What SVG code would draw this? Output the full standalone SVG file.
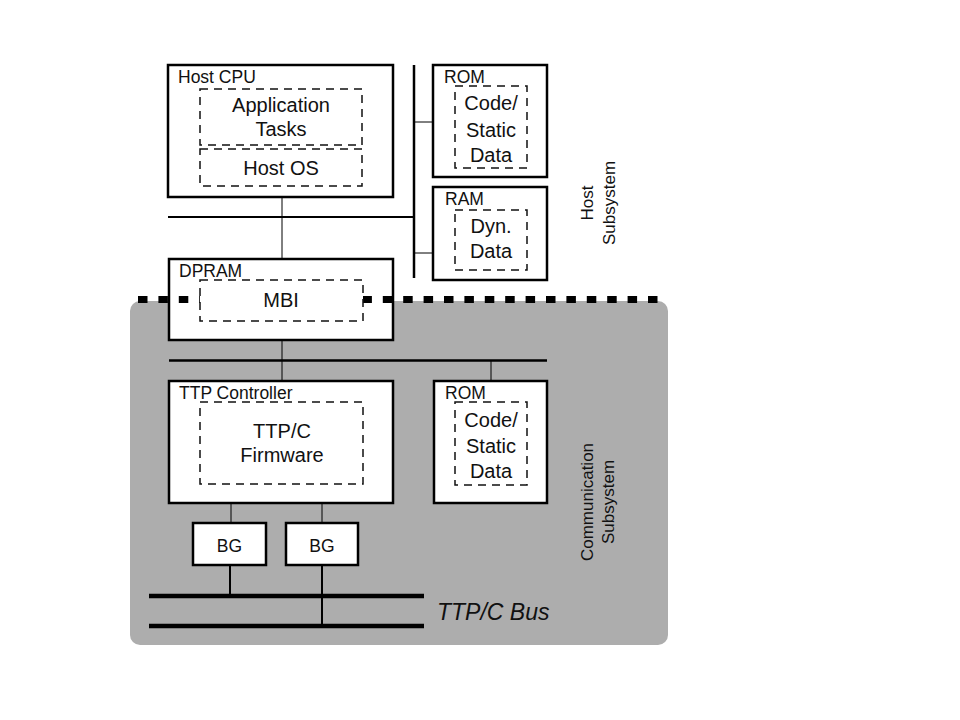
<svg xmlns="http://www.w3.org/2000/svg" width="960" height="720" viewBox="0 0 960 720">
<style>
text{font-family:"Liberation Sans",Arial,sans-serif;fill:#111}
.box{fill:#fff;stroke:#000;stroke-width:2.5}
.dash{fill:none;stroke:#111;stroke-width:1.5;stroke-dasharray:8 6}
.dashw{fill:#fff;stroke:#111;stroke-width:1.5;stroke-dasharray:8 6}
.lbl{font-size:17.5px}
.in{font-size:20px;text-anchor:middle}
.rot{font-size:17px;text-anchor:middle}
.ln{stroke:#000;fill:none}
</style>
<rect width="960" height="720" fill="#fff"/>
<g id="comm-region">
<rect x="130" y="301" width="538" height="344" rx="10" fill="#adadad"/>
</g>
<g id="connectors">
<line class="ln" x1="414" y1="65" x2="414" y2="278" stroke-width="2.5"/>
<line class="ln" x1="168" y1="217" x2="414" y2="217" stroke-width="2"/>
<line class="ln" x1="414" y1="122" x2="433" y2="122" stroke-width="1"/>
<line class="ln" x1="414" y1="253" x2="433" y2="253" stroke-width="1"/>
<line class="ln" x1="282" y1="197" x2="282" y2="259" stroke-width="1"/>
<line class="ln" x1="169" y1="360.5" x2="547" y2="360.5" stroke-width="2.5"/>
<line class="ln" x1="282" y1="340" x2="282" y2="381" stroke-width="1"/>
<line class="ln" x1="491" y1="361" x2="491" y2="381" stroke-width="1"/>
<line class="ln" x1="231" y1="503" x2="231" y2="523" stroke-width="1"/>
<line class="ln" x1="322" y1="503" x2="322" y2="523" stroke-width="1"/>
<line class="ln" x1="230" y1="565" x2="230" y2="596" stroke-width="2"/>
<line class="ln" x1="322" y1="565" x2="322" y2="626" stroke-width="2"/>
<line class="ln" x1="149" y1="596" x2="424" y2="596" stroke-width="4.5"/>
<line class="ln" x1="149" y1="626" x2="424" y2="626" stroke-width="4.5"/>
</g>
<g id="host-cpu">
<rect class="box" x="168" y="65" width="225" height="132"/>
<rect class="dash" x="200" y="89" width="162" height="56"/>
<rect class="dash" x="200" y="149" width="162" height="37"/>
<text class="lbl" x="178" y="83">Host CPU</text>
<text class="in" x="281" y="112">Application</text>
<text class="in" x="281" y="136">Tasks</text>
<text class="in" x="281" y="175">Host OS</text>
</g>
<g id="host-rom">
<rect class="box" x="433" y="65" width="114" height="112"/>
<rect class="dash" x="455" y="86" width="72" height="82"/>
<text class="lbl" x="444" y="83">ROM</text>
<text class="in" x="491" y="110">Code/</text>
<text class="in" x="491" y="137">Static</text>
<text class="in" x="491" y="162">Data</text>
</g>
<g id="host-ram">
<rect class="box" x="433" y="187" width="114" height="93"/>
<rect class="dash" x="455" y="210" width="72" height="60"/>
<text class="lbl" x="445" y="205">RAM</text>
<text class="in" x="491" y="233">Dyn.</text>
<text class="in" x="491" y="258">Data</text>
</g>
<g id="host-subsystem-label">
<text class="rot" transform="translate(593,203) rotate(-90)">Host</text>
<text class="rot" transform="translate(615,203) rotate(-90)">Subsystem</text>
</g>
<g id="dpram">
<rect class="box" x="169" y="259" width="224" height="81"/>
<text class="lbl" x="179" y="277">DPRAM</text>
</g>
<g id="boundary">
<line x1="138" y1="299.5" x2="658" y2="299.5" stroke="#000" stroke-width="7" stroke-dasharray="9.5 10.9"/>
</g>
<g id="mbi">
<rect class="dashw" x="200" y="280" width="163" height="41"/>
<text class="in" x="281" y="307">MBI</text>
</g>
<g id="ttp-controller">
<rect class="box" x="169" y="381" width="224" height="122"/>
<rect class="dash" x="200" y="402" width="163" height="82"/>
<text class="lbl" x="179" y="399">TTP Controller</text>
<text class="in" x="282" y="438">TTP/C</text>
<text class="in" x="282" y="462">Firmware</text>
</g>
<g id="comm-rom">
<rect class="box" x="434" y="381" width="113" height="122"/>
<rect class="dash" x="455" y="402" width="72" height="83"/>
<text class="lbl" x="445" y="399">ROM</text>
<text class="in" x="491" y="427">Code/</text>
<text class="in" x="491" y="453">Static</text>
<text class="in" x="491" y="478">Data</text>
</g>
<g id="bg1">
<rect class="box" x="193" y="523" width="73" height="42"/>
<text class="lbl" x="229.5" y="552" text-anchor="middle">BG</text>
</g>
<g id="bg2">
<rect class="box" x="286" y="523" width="72" height="42"/>
<text class="lbl" x="322" y="552" text-anchor="middle">BG</text>
</g>
<g id="bus-label">
<text x="437" y="620" font-size="23" font-style="italic">TTP/C Bus</text>
</g>
<g id="comm-subsystem-label">
<text class="rot" transform="translate(593,502) rotate(-90)">Communication</text>
<text class="rot" transform="translate(614,502) rotate(-90)">Subsystem</text>
</g>
</svg>
